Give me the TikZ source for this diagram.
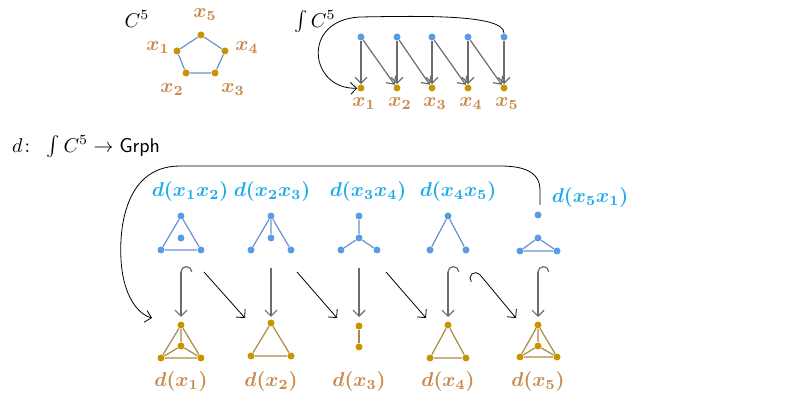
\documentclass[tikz,border=0pt]{standalone}
\usepackage{amsmath}
\usepackage{amssymb}
\usepackage{bm}
\usetikzlibrary{arrows.meta}
\definecolor{vblue}{HTML}{5A9BE6}
\definecolor{eblue}{HTML}{6A8FD0}
\definecolor{lblue}{HTML}{1EAAEA}
\definecolor{vgold}{HTML}{C89400}
\definecolor{egold}{HTML}{A88A40}
\definecolor{lgold}{HTML}{C8884A}
\tikzset{
  bdot/.style={circle, fill=vblue, inner sep=0pt, minimum size=3.5pt},
  gdot/.style={circle, fill=vgold, inner sep=0pt, minimum size=3.5pt},
  bedge/.style={draw=eblue, semithick},
  gedge/.style={draw=egold, semithick},
  glab/.style={text=lgold},
  blab/.style={text=lblue},
  map/.style={draw=gray!85!black, semithick, -{Straight Barb[length=3pt]}},
  hmap/.style={draw=gray!85!black, semithick, {Hooks[right,length=3pt]}-{Straight Barb[length=3pt]}},
  dmap/.style={draw=black, thin, -{Straight Barb[length=3pt]}},
}
\begin{document}
\begin{tikzpicture}[x=0.0176cm, y=-0.0176cm]
\useasboundingbox (0,0) rectangle (797,415);
% the cycle
\node at (137,19) {$C^5$};
\node[gdot] (5) at (201,35) {};
\node[gdot] (1) at (177,51) {};
\node[gdot] (4) at (225,51) {};
\node[gdot] (2) at (186,73) {};
\node[gdot] (3) at (215,73) {};
\draw[bedge] (1) -- (5) -- (4) -- (3) -- (2) -- (1);
\node[glab] at (205,15) {$\bm{x_5}$};
\node[glab] at (158,48) {$\bm{x_1}$};
\node[glab] at (247,48) {$\bm{x_4}$};
\node[glab] at (172,90) {$\bm{x_2}$};
\node[glab] at (233,90) {$\bm{x_3}$};
% its category of elements
\node at (315,22) {$\textstyle\int C^5$};
\foreach \i/\x in {1/361,2/397,3/432,4/468,5/504} {
  \node[bdot] (e\i) at (\x,37) {};
  \node[gdot] (v\i) at (\x,88) {};
  \node[glab] at (\x+3,104) {$\bm{x_{\i}}$};
  \draw[map] (e\i) -- (v\i);
}
\foreach \i/\j in {1/2,2/3,3/4,4/5}
  \draw[map] (e\i) -- (v\j);
\draw[dmap] (e5) .. controls (504,14) and (420,16) .. (360,17)
  .. controls (300,20) and (310,90) .. (v1);
% the diagram
\node[anchor=west] at (5,147) {$d\colon\ \int C^5 \to \mathsf{Grph}$};
\foreach \i/\x in {1/190,2/272,3/368,4/458}
  \node[blab] (l\i) at (\x,192) {$\bm{d(x_{\i}x_{\the\numexpr\i+1\relax})}$};
\node[blab] (l5) at (590,198) {$\bm{d(x_5x_1)}$};
% d(x1x2)
\node[bdot] (a1) at (181,216) {}; \node[bdot] (a2) at (161,250) {};
\node[bdot] (a3) at (201,250) {}; \node[bdot] (a4) at (181,238) {};
\draw[bedge] (a1) -- (a2) -- (a3) -- (a1);
% d(x2x3)
\node[bdot] (b1) at (271,216) {}; \node[bdot] (b2) at (251,250) {};
\node[bdot] (b3) at (291,250) {}; \node[bdot] (b4) at (271,238) {};
\draw[bedge] (b2) -- (b1) -- (b3) (b1) -- (b4);
% d(x3x4)
\node[bdot] (c1) at (359,216) {}; \node[bdot] (c2) at (341,250) {};
\node[bdot] (c3) at (377,250) {}; \node[bdot] (c4) at (359,238) {};
\draw[bedge] (c4) -- (c1) (c4) -- (c2) (c4) -- (c3);
% d(x4x5)
\node[bdot] (f1) at (448,216) {}; \node[bdot] (f2) at (430,250) {};
\node[bdot] (f3) at (466,250) {};
\draw[bedge] (f2) -- (f1) -- (f3);
% d(x5x1)
\node[bdot] (h1) at (538,215) {}; \node[bdot] (h2) at (520,251) {};
\node[bdot] (h3) at (557,251) {}; \node[bdot] (h4) at (538,238) {};
\draw[bedge] (h2) -- (h3) -- (h4) -- (h2);
% the vertices' graphs
\node[gdot] (p1) at (181,325) {}; \node[gdot] (p2) at (161,358) {};
\node[gdot] (p3) at (201,358) {}; \node[gdot] (p4) at (181,346) {};
\draw[gedge] (p1) -- (p2) -- (p3) -- (p1) (p4) -- (p1) (p4) -- (p2) (p4) -- (p3);
\node[gdot] (q1) at (271,323) {}; \node[gdot] (q2) at (251,356) {};
\node[gdot] (q3) at (291,356) {};
\draw[gedge] (q1) -- (q2) -- (q3) -- (q1);
\node[gdot] (r1) at (359,326) {}; \node[gdot] (r2) at (359,347) {};
\draw[gedge] (r1) -- (r2);
\node[gdot] (s1) at (448,325) {}; \node[gdot] (s2) at (430,358) {};
\node[gdot] (s3) at (466,358) {};
\draw[gedge] (s1) -- (s2) -- (s3) -- (s1);
\node[gdot] (t1) at (538,325) {}; \node[gdot] (t2) at (520,357) {};
\node[gdot] (t3) at (557,357) {}; \node[gdot] (t4) at (538,346) {};
\draw[gedge] (t1) -- (t2) -- (t3) -- (t1) (t4) -- (t1) (t4) -- (t2) (t4) -- (t3);
\foreach \i/\x in {1/181,2/271,3/359,4/448,5/538}
  \node[glab] at (\x,382) {$\bm{d(x_{\i})}$};
% the maps
\foreach \i/\x in {1/181,4/448,5/538} {
  \coordinate (u\i) at (\x,266); \coordinate (w\i) at (\x,317);
  \draw[hmap] (u\i) -- (w\i);
}
\foreach \i/\x in {2/271,3/359} {
  \coordinate (u\i) at (\x,268); \coordinate (w\i) at (\x,317);
  \draw[map] (u\i) -- (w\i);
}
\foreach \i/\x/\y in {1/204/245,2/297/337,3/386/426} {
  \coordinate (m\i) at (\x,272); \coordinate (n\i) at (\y,318);
  \draw[dmap] (m\i) -- (n\i);
}
\coordinate (m4) at (476,270); \coordinate (n4) at (516,318);
\draw[dmap, {Hooks[left,length=3pt]}-{Straight Barb[length=3pt]}] (m4) -- (n4);
\coordinate (k1) at (540,205); \coordinate (k2) at (152,318);
\draw[dmap] (k1) -- (540,190) .. controls (540,170) and (520,166) .. (500,166)
  -- (180,166) .. controls (120,166) and (118,240) .. (122,270)
  .. controls (126,300) and (140,315) .. (k2);
\end{tikzpicture}
\end{document}
